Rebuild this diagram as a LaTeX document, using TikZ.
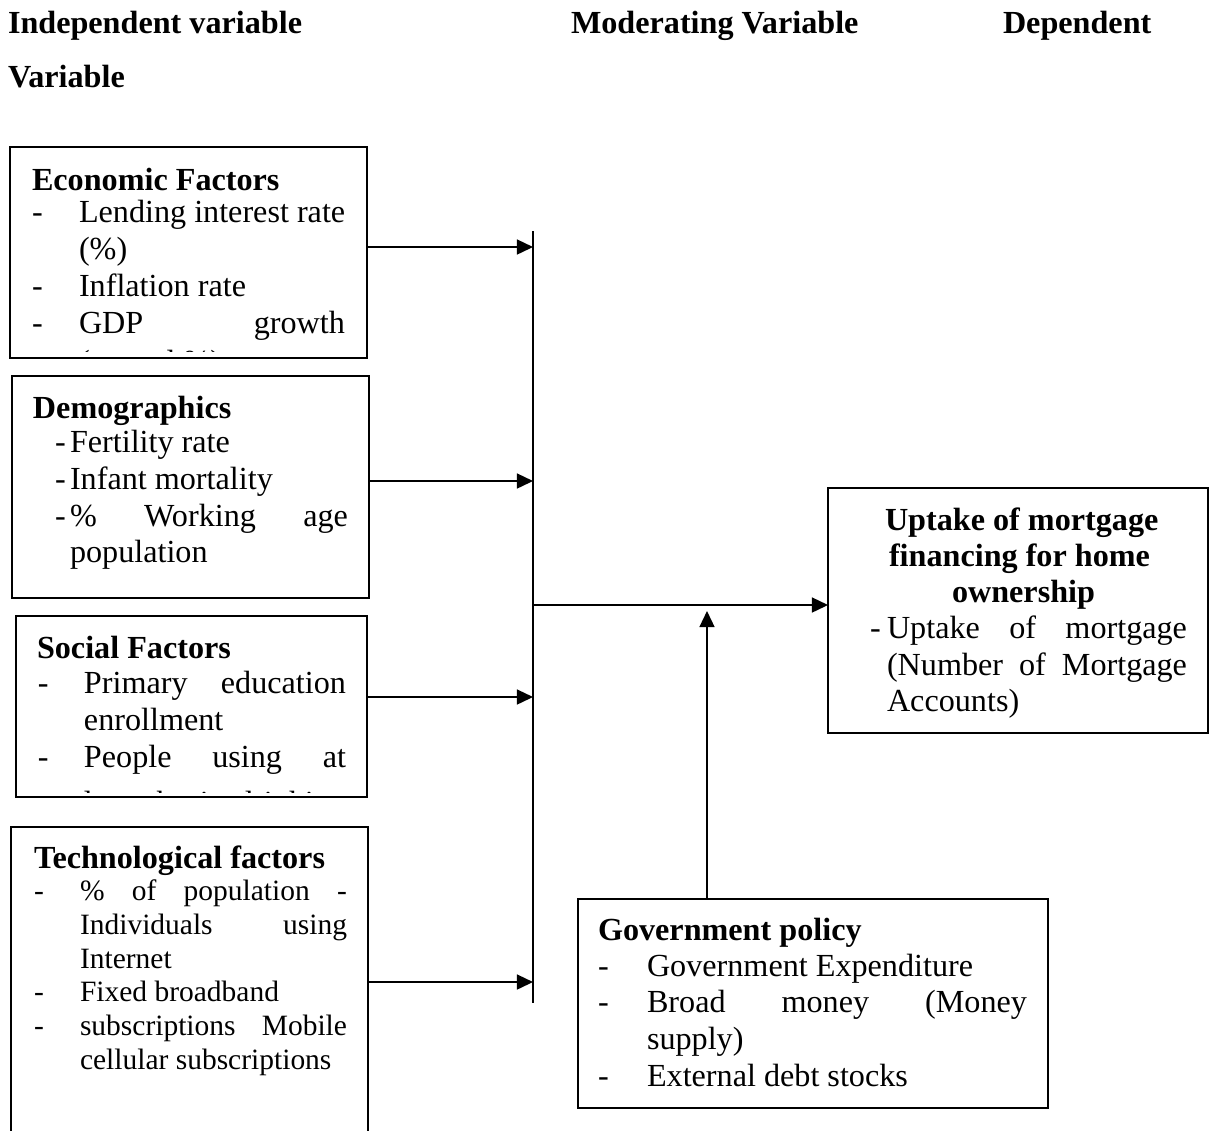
\documentclass[tikz,border=0pt]{standalone}
\usepackage{fontspec}
\setmainfont{Liberation Serif}
\usetikzlibrary{arrows.meta}
\newlength\pxu
\setlength\pxu{0.373pt}
\begin{document}
\begin{tikzpicture}[x=0.373pt, y=-0.373pt,
  box/.style={draw, line width=0.75pt, inner sep=0pt, outer sep=0pt, anchor=north west},
  txt/.style={inner sep=0pt, outer sep=0pt, anchor=base west, font=\fontsize{12}{13.8}\selectfont},
  stxt/.style={txt, font=\fontsize{11}{12.65}\selectfont},
  hd/.style={txt, font=\fontsize{12}{13.8}\selectfont\bfseries},
  conn/.style={line width=0.6pt},
  bar/.style={line width=0.75pt},
  arr/.style={conn, -{Triangle[length=6pt, width=5.6pt]}},
]
\useasboundingbox (0,0) rectangle (1213,1130);
\clip (0,0) rectangle (1213,1130);

% headers
\node[hd] (hIV) at (8,33) {Independent variable};
\node[hd] (hMV) at (571,33) {Moderating Variable};
\node[hd] (hDV) at (1003,33) {Dependent};
\node[hd] (hDV2) at (8,87) {Variable};

% boxes
\node[box, minimum width=357\pxu, minimum height=211\pxu] (eco) at (10,147) {};
\node[box, minimum width=357\pxu, minimum height=222\pxu] (dem) at (12,376) {};
\node[box, minimum width=351\pxu, minimum height=181\pxu] (soc) at (16,616) {};
\node[box, minimum width=357\pxu, minimum height=340\pxu] (tec) at (11,827) {};
\node[box, minimum width=470\pxu, minimum height=209\pxu] (gov) at (578,899) {};
\node[box, minimum width=380\pxu, minimum height=245\pxu] (upt) at (828,488) {};

% economic factors
\node[hd] (ecoT) at (32,190) {Economic Factors};
\node[txt] (eco1d) at (32,222) {-};
\node[txt] (eco1) at (79,222) {Lending interest rate};
\node[txt] (eco2) at (79,259) {(\%)};
\node[txt] (eco3d) at (32,296) {-};
\node[txt] (eco3) at (79,296) {Inflation rate};
\node[txt] (eco4d) at (32,333) {-};
\node[txt] (eco4) at (79,333) {\makebox[266\pxu][s]{GDP growth}};
\begin{scope}
\clip (10,147) rectangle (367,351);
\node[txt] (eco5) at (79,372) {(annual \%)};
\end{scope}

% demographics
\node[hd] (demT) at (33,418) {Demographics};
\node[txt] (dem1d) at (55,452) {-};
\node[txt] (dem1) at (70,452) {Fertility rate};
\node[txt] (dem2d) at (55,489) {-};
\node[txt] (dem2) at (70,489) {Infant mortality};
\node[txt] (dem3d) at (55,526) {-};
\node[txt] (dem3) at (70,526) {\makebox[278\pxu][s]{\% Working age}};
\node[txt] (dem4) at (70,562) {population};

% social factors
\node[hd] (socT) at (37,658) {Social Factors};
\node[txt] (soc1d) at (38,693) {-};
\node[txt] (soc1) at (84,693) {\makebox[262\pxu][s]{Primary education}};
\node[txt] (soc2) at (84,730) {enrollment};
\node[txt] (soc3d) at (38,767) {-};
\node[txt] (soc3) at (84,767) {\makebox[262\pxu][s]{People using at}};
\begin{scope}
\clip (16,616) rectangle (367,792);
\node[txt] (soc4) at (84,813) {\makebox[262\pxu][s]{least basic drinking}};
\end{scope}

% technological factors
\node[hd] (tecT) at (34,868) {Technological factors};
\node[stxt] (tec1d) at (34,900) {-};
\node[stxt] (tec1) at (80,900) {\makebox[267\pxu][s]{\% of population -}};
\node[stxt] (tec2) at (80,934) {\makebox[267\pxu][s]{Individuals using}};
\node[stxt] (tec3) at (80,968) {Internet};
\node[stxt] (tec4d) at (34,1001) {-};
\node[stxt] (tec4) at (80,1001) {Fixed broadband};
\node[stxt] (tec5d) at (34,1035) {-};
\node[stxt] (tec5) at (80,1035) {\makebox[267\pxu][s]{subscriptions Mobile}};
\node[stxt] (tec6) at (80,1069) {cellular subscriptions};

% government policy
\node[hd] (govT) at (598,940) {Government policy};
\node[txt] (gov1d) at (598,976) {-};
\node[txt] (gov1) at (647,976) {Government Expenditure};
\node[txt] (gov2d) at (598,1012) {-};
\node[txt] (gov2) at (647,1012) {\makebox[380\pxu][s]{Broad money (Money}};
\node[txt] (gov3) at (647,1049) {supply)};
\node[txt] (gov4d) at (598,1086) {-};
\node[txt] (gov4) at (647,1086) {External debt stocks};

% uptake
\node[hd] (uptT1) at (885,530) {Uptake of mortgage};
\node[hd] (uptT2) at (889,566) {financing for home};
\node[hd] (uptT3) at (952,602) {ownership};
\node[txt] (upt1d) at (870,638) {-};
\node[txt] (upt1) at (887,638) {\makebox[300\pxu][s]{Uptake of mortgage}};
\node[txt] (upt2) at (887,675) {\makebox[300\pxu][s]{(Number of Mortgage}};
\node[txt] (upt3) at (887,711) {Accounts)};

% connectors
\coordinate (bartop) at (533,231);
\coordinate (barbot) at (533,1003);
\coordinate (j1) at (533,247);
\coordinate (j2) at (533,481);
\coordinate (j3) at (533,697);
\coordinate (j4) at (533,982);
\coordinate (jm) at (533,605);
\coordinate (gt) at (707,611);
\draw[bar] (bartop) -- (barbot);
\draw[arr] (j1 -| eco.east) -- (j1);
\draw[arr] (j2 -| dem.east) -- (j2);
\draw[arr] (j3 -| soc.east) -- (j3);
\draw[arr] (j4 -| tec.east) -- (j4);
\draw[arr] (jm) -- (jm -| upt.west);
\draw[arr] (gt |- gov.north) -- (gt);
\end{tikzpicture}
\end{document}
